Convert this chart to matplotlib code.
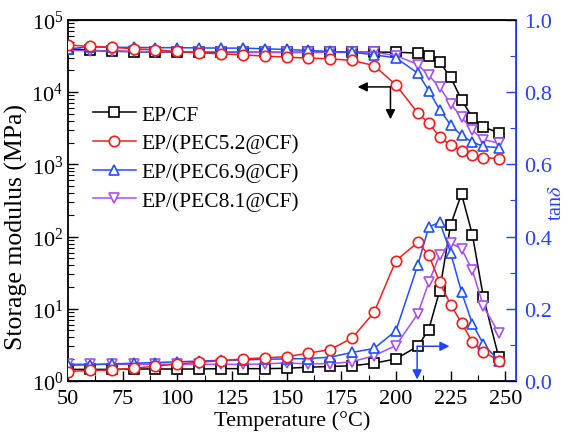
import matplotlib
matplotlib.use("Agg")
import matplotlib.pyplot as plt
from matplotlib.ticker import MultipleLocator, LogLocator, NullFormatter

plt.rcParams['font.family'] = ['Liberation Serif', 'DejaVu Serif']
plt.rcParams['mathtext.fontset'] = 'stix'
plt.rcParams['font.size'] = 16

# DMA sweep temperatures (°C)
temperature = [50, 60, 70, 80, 90, 100, 110, 120, 130, 140, 150, 160, 170, 180, 190, 200,
               210, 215, 220, 225, 230, 235, 240, 247]

# storage modulus E' (MPa)
modulus_cf = [39800, 38000, 36700, 36300, 35900, 35900, 35500, 35500, 35500, 35500, 35500, 35500,
              35700, 35700, 35700, 35700, 34600, 32100, 26000, 16100, 7820, 4410, 3280, 2740]
modulus_52 = [45000, 42800, 41900, 39700, 38500, 36500, 35000, 33900, 32800, 31500, 30500, 29500,
              28900, 27400, 23300, 12600, 5130, 3720, 2390, 1830, 1530, 1330, 1240, 1200]
modulus_69 = [39800, 42200, 41700, 41700, 41200, 41200, 40900, 40700, 40600, 39800, 38900, 37700,
              36500, 35700, 32800, 29800, 18300, 10500, 5690, 3530, 2510, 2030, 1770, 1700]
modulus_81 = [38000, 37200, 37200, 36700, 36300, 36300, 36300, 35900, 35900, 35500, 35500, 35500,
              35500, 35500, 35500, 32100, 24100, 17000, 11700, 6890, 4510, 2940, 2190, 1970]

# loss factor tan(delta)
tand_cf = [0.032, 0.032, 0.032, 0.033, 0.033, 0.033, 0.033, 0.034, 0.034, 0.034, 0.035, 0.038,
           0.040, 0.042, 0.049, 0.061, 0.096, 0.142, 0.250, 0.432, 0.518, 0.404, 0.232, 0.066]
tand_52 = [0.026, 0.029, 0.030, 0.035, 0.041, 0.047, 0.052, 0.056, 0.061, 0.064, 0.067, 0.077,
           0.087, 0.119, 0.190, 0.333, 0.384, 0.349, 0.273, 0.211, 0.161, 0.107, 0.081, 0.056]
tand_69 = [0.043, 0.045, 0.047, 0.049, 0.051, 0.053, 0.055, 0.057, 0.058, 0.060, 0.061, 0.062,
           0.066, 0.079, 0.090, 0.139, 0.321, 0.426, 0.440, 0.355, 0.246, 0.158, 0.102, 0.056]
tand_81 = [0.047, 0.046, 0.046, 0.046, 0.046, 0.046, 0.046, 0.046, 0.046, 0.047, 0.050, 0.047,
           0.048, 0.053, 0.070, 0.098, 0.186, 0.273, 0.349, 0.382, 0.366, 0.306, 0.207, 0.133]

labels = ['EP/CF', 'EP/(PEC5.2@CF)', 'EP/(PEC6.9@CF)', 'EP/(PEC8.1@CF)']
colors = ['black', '#ff1a1a', '#1f4fff', '#a64dff']
markers = ['s', 'o', '^', 'v']
zorders = [3, 6, 5, 4]
blue_axis = '#2143ff'

fig = plt.figure(figsize=(5.71, 4.35), dpi=100)
ax = fig.add_axes([0.119, 0.122, 0.785, 0.830])
ax2 = ax.twinx()

moduli = [modulus_cf, modulus_52, modulus_69, modulus_81]
tands = [tand_cf, tand_52, tand_69, tand_81]

style = dict(lw=1.1, ms=7.5, mew=1.2, mfc='white')
for e, t, lab, c, m, z in zip(moduli, tands, labels, colors, markers, zorders):
    ax.plot(temperature, e, color=c, marker=m, mec=c, label=lab, zorder=z, **style)
    ax2.plot(temperature, t, color=c, marker=m, mec=c, zorder=z, **style)

ax.set_yscale('log')
ax.set_xlim(50, 255)
ax.set_ylim(1, 1e5)
ax2.set_ylim(0, 1.0)

ax.xaxis.set_major_locator(MultipleLocator(25))
ax.xaxis.set_minor_locator(MultipleLocator(12.5))
ax.yaxis.set_major_locator(LogLocator(base=10, numticks=10))
ax.yaxis.set_minor_locator(LogLocator(base=10, subs=range(2, 10), numticks=10))
ax.yaxis.set_minor_formatter(NullFormatter())
ax2.yaxis.set_major_locator(MultipleLocator(0.2))
ax2.yaxis.set_minor_locator(MultipleLocator(0.1))
ax2.yaxis.set_major_formatter(plt.FuncFormatter(lambda v, p: f'{v:.1f}'))

ax.tick_params(which='major', direction='in', length=7, width=1.0, top=False, right=False)
ax.tick_params(which='minor', direction='in', length=4, width=0.8, top=False, right=False)
ax.tick_params(axis='x', which='major', pad=6)
ax2.tick_params(which='major', direction='in', length=7, width=1.0, colors=blue_axis, pad=6)
ax2.tick_params(which='minor', direction='in', length=4, width=0.8, colors=blue_axis)
ax2.spines['right'].set_color(blue_axis)
ax2.spines['right'].set_linewidth(1.3)
for s in ['left', 'bottom', 'top']:
    ax.spines[s].set_linewidth(1.3)
ax2.spines['left'].set_visible(False)

ax.set_xlabel('Temperature (°C)', fontsize=16, labelpad=1)
ax.set_ylabel('Storage modulus (MPa)', fontsize=18.5)
ax.yaxis.set_label_coords(-0.09, 0.43)
ax2.set_ylabel(r'tan$\delta$', color=blue_axis, fontsize=14.5)
ax2.yaxis.set_label_coords(1.068, 0.494)

# arrows pointing each curve group to its axis
arrow = dict(arrowstyle='-|>', color='black', lw=1.1, mutation_scale=14, shrinkA=0, shrinkB=0)
ax.annotate('', xy=(182.5, 11800), xytext=(197.5, 11800), arrowprops=arrow)
ax.annotate('', xy=(197.5, 4200), xytext=(197.5, 11800), arrowprops=arrow)
arrow_b = dict(arrow, color=blue_axis)
ax2.annotate('', xy=(224.5, 0.096), xytext=(209.7, 0.096), arrowprops=arrow_b)
ax2.annotate('', xy=(209.7, 0.004), xytext=(209.7, 0.096), arrowprops=arrow_b)

ax.legend(loc='upper left', bbox_to_anchor=(0.055, 0.765), frameon=False, fontsize=15.5,
          handlelength=2.0, handletextpad=0.25, labelspacing=0.4, borderpad=0, borderaxespad=0)

fig.savefig('out.png', dpi=100)
